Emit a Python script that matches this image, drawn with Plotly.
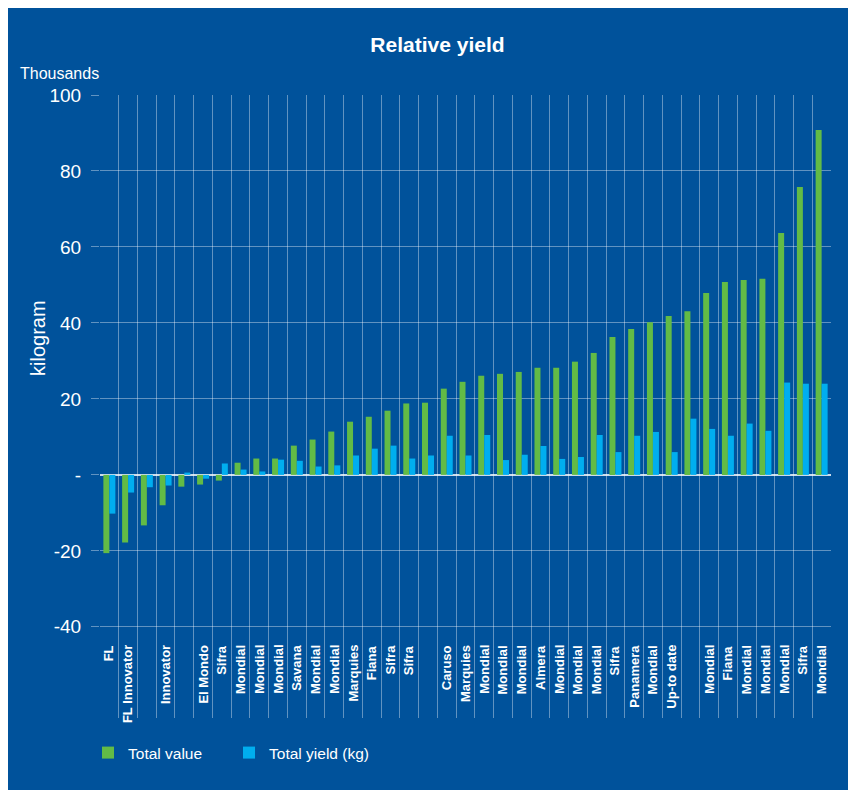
import plotly.graph_objects as go

labels = ["FL", "FL Innovator", "", "Innovator", "", "El Mondo", "Sifra", "Mondial",
          "Mondial", "Mondial", "Savana", "Mondial", "Mondial", "Marquies", "Fiana",
          "Sifra", "Sifra", "", "Caruso", "Marquies", "Mondial", "Mondial", "Mondial",
          "Almera", "Mondial", "Mondial", "Mondial", "Sifra", "Panamera", "Mondial",
          "Up-to date", "", "Mondial", "Fiana", "Mondial", "Mondial", "Mondial",
          "Sifra", "Mondial"]

total_value = [-20.6, -17.8, -13.3, -8.0, -3.1, -2.55, -1.5, 3.2, 4.3, 4.3,
               7.7, 9.3, 11.4, 14.0, 15.3, 16.9, 18.8, 19.0, 22.7, 24.5,
               26.1, 26.6, 27.1, 28.2, 28.2, 29.8, 32.1, 36.3, 38.4, 40.2,
               41.8, 43.1, 47.9, 50.8, 51.3, 51.6, 63.7, 75.8, 90.8]

total_yield = [-10.2, -4.65, -3.25, -2.8, 0.6, -1.0, 3.0, 1.4, 0.9, 4.0,
               3.7, 2.2, 2.5, 5.1, 6.9, 7.7, 4.3, 5.1, 10.3, 5.1,
               10.5, 3.9, 5.3, 7.6, 4.2, 4.7, 10.5, 6.0, 10.3, 11.3,
               6.0, 14.8, 12.1, 10.3, 13.5, 11.6, 24.3, 24.0, 24.0]

y_ticks = [-40, -20, 0, 20, 40, 60, 80, 100]
y_ticktext = ["-40", "-20", "-", "20", "40", "60", "80", "100"]

BG = "#00529B"
GREEN = "#62BB46"
BLUE = "#00AEEF"
GRID = "rgba(255,255,255,0.38)"
FONT = "Liberation Sans"

n = len(labels)
xs = list(range(n))

fig = go.Figure()
fig.add_trace(go.Bar(x=xs, y=total_value, name="Total value", marker_color=GREEN,
                     marker_line_width=0, legend="legend", showlegend=True))
fig.add_trace(go.Bar(x=xs, y=total_yield, name="Total yield (kg)", marker_color=BLUE,
                     marker_line_width=0, legend="legend2", showlegend=True))

for i, lab in enumerate(labels):
    if lab:
        fig.add_annotation(x=i, xref="x", y=0.1204, yref="paper", text=lab,
                           textangle=-90, xanchor="center", yanchor="top",
                           showarrow=False,
                           font=dict(family=FONT, size=13, color="white", weight="bold"))

fig.add_annotation(x=-0.11218, xref="paper", y=1.0345, yref="paper", text="Thousands",
                   xanchor="left", yanchor="middle", showarrow=False,
                   font=dict(family=FONT, size=16, color="white"))
fig.add_annotation(x=-0.0848, xref="paper", y=0.61, yref="paper", text="kilogram",
                   textangle=-90, xanchor="center", yanchor="middle", showarrow=False,
                   font=dict(family=FONT, size=20, color="white"))

legend_style = dict(orientation="h", xanchor="left", y=-0.0562, yanchor="middle",
                    font=dict(family=FONT, size=15.5, color="white"),
                    bgcolor="rgba(0,0,0,0)", visible=True)

fig.update_layout(
    width=840, height=782,
    margin=dict(l=92, r=17, t=87, b=72),
    paper_bgcolor=BG, plot_bgcolor=BG,
    showlegend=True,
    barmode="group", bargap=0.36, bargroupgap=0,
    title=dict(text="Relative yield", x=0.5113, xref="container", y=0.9527,
               yref="container", xanchor="center", yanchor="middle",
               font=dict(family=FONT, size=21, color="white", weight="bold")),
    font=dict(family=FONT, color="white"),
    legend=dict(x=-0.0164, **legend_style),
    legend2=dict(x=0.1765, **legend_style),
    xaxis=dict(range=[-0.5, n - 0.5], tickvals=[i - 0.5 for i in range(n + 1)],
               showticklabels=False, ticks="", showgrid=True, gridcolor=GRID,
               gridwidth=1, zeroline=False, showline=False, fixedrange=True),
    yaxis=dict(range=[-64, 100], tickvals=y_ticks, ticktext=y_ticktext,
               ticks="outside", ticklen=8, tickcolor=GRID, tickwidth=1,
               ticklabelstandoff=6,
               showgrid=True, gridcolor=GRID, gridwidth=1,
               zeroline=True, zerolinecolor="rgba(255,255,255,0.8)", zerolinewidth=1.5,
               showline=False, tickfont=dict(family=FONT, size=19, color="white"),
               fixedrange=True),
)

fig.write_html("out.html")
